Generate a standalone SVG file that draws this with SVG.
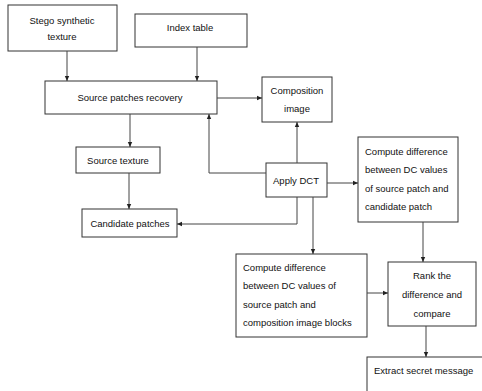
<svg xmlns="http://www.w3.org/2000/svg" width="482" height="391" viewBox="0 0 482 391">
<defs>
<marker id="ah" markerWidth="6" markerHeight="6" refX="5" refY="3" orient="auto" markerUnits="userSpaceOnUse">
<path d="M0,0.8 L5,3 L0,5.2 Z" fill="#222"/>
</marker>
<style>
.box{fill:#fff;stroke:#333;stroke-width:1}
.t{font-family:"Liberation Sans",Arial,sans-serif;font-size:9.5px;fill:#111}
.c{text-anchor:middle}
.ln{fill:none;stroke:#444;stroke-width:1;marker-end:url(#ah)}
</style>
</defs>
<rect width="482" height="391" fill="#fff"/>
<g id="stego"><rect class="box" x="8" y="5" width="109" height="46"/><text class="t c" x="62" y="24">Stego synthetic</text><text class="t c" x="62" y="40">texture</text></g>
<g id="index"><rect class="box" x="135" y="14" width="112" height="33"/><text class="t c" x="190" y="31">Index table</text></g>
<g id="spr"><rect class="box" x="45" y="81" width="172" height="33"/><text class="t c" x="130" y="101">Source patches recovery</text></g>
<g id="comp"><rect class="box" x="262" y="77" width="70" height="45"/><text class="t c" x="297" y="94">Composition</text><text class="t c" x="297" y="112">image</text></g>
<g id="dct"><rect class="box" x="266" y="163" width="61" height="34"/><text class="t c" x="296" y="184">Apply DCT</text></g>
<g id="diff1"><rect class="box" x="358" y="137" width="100" height="85"/><text class="t" x="365" y="155">Compute difference</text><text class="t" x="365" y="173">between DC values</text><text class="t" x="365" y="192">of source patch and</text><text class="t" x="365" y="210">candidate patch</text></g>
<g id="srctex"><rect class="box" x="76" y="147" width="84" height="26"/><text class="t c" x="118" y="164">Source texture</text></g>
<g id="cand"><rect class="box" x="82" y="209" width="95" height="28"/><text class="t c" x="130" y="227">Candidate patches</text></g>
<g id="diff2"><rect class="box" x="236" y="254" width="131" height="83"/><text class="t" x="243" y="271">Compute difference</text><text class="t" x="243" y="289">between DC values of</text><text class="t" x="243" y="308">source patch and</text><text class="t" x="243" y="326">composition image blocks</text></g>
<g id="rank"><rect class="box" x="388" y="262" width="88" height="64"/><text class="t c" x="432" y="279">Rank the</text><text class="t c" x="432" y="298">difference and</text><text class="t c" x="432" y="317">compare</text></g>
<g id="extract"><rect class="box" x="367" y="357" width="120" height="40"/><text class="t" x="374" y="374">Extract secret message</text></g>
<g id="connectors">
<line class="ln" x1="67" y1="51" x2="67" y2="81"/>
<line class="ln" x1="197" y1="47" x2="197" y2="81"/>
<line class="ln" x1="217" y1="98" x2="262" y2="98"/>
<line class="ln" x1="130" y1="114" x2="130" y2="147"/>
<polyline class="ln" points="266,173 209,173 209,114"/>
<line class="ln" x1="297" y1="163" x2="297" y2="122"/>
<line class="ln" x1="327" y1="183" x2="358" y2="183"/>
<line class="ln" x1="129" y1="173" x2="129" y2="209"/>
<polyline class="ln" points="297,197 297,224 177,224"/>
<line class="ln" x1="313" y1="197" x2="313" y2="254"/>
<line class="ln" x1="367" y1="293" x2="388" y2="293"/>
<line class="ln" x1="423" y1="222" x2="423" y2="262"/>
<line class="ln" x1="426" y1="326" x2="426" y2="357"/>
</g>
</svg>
